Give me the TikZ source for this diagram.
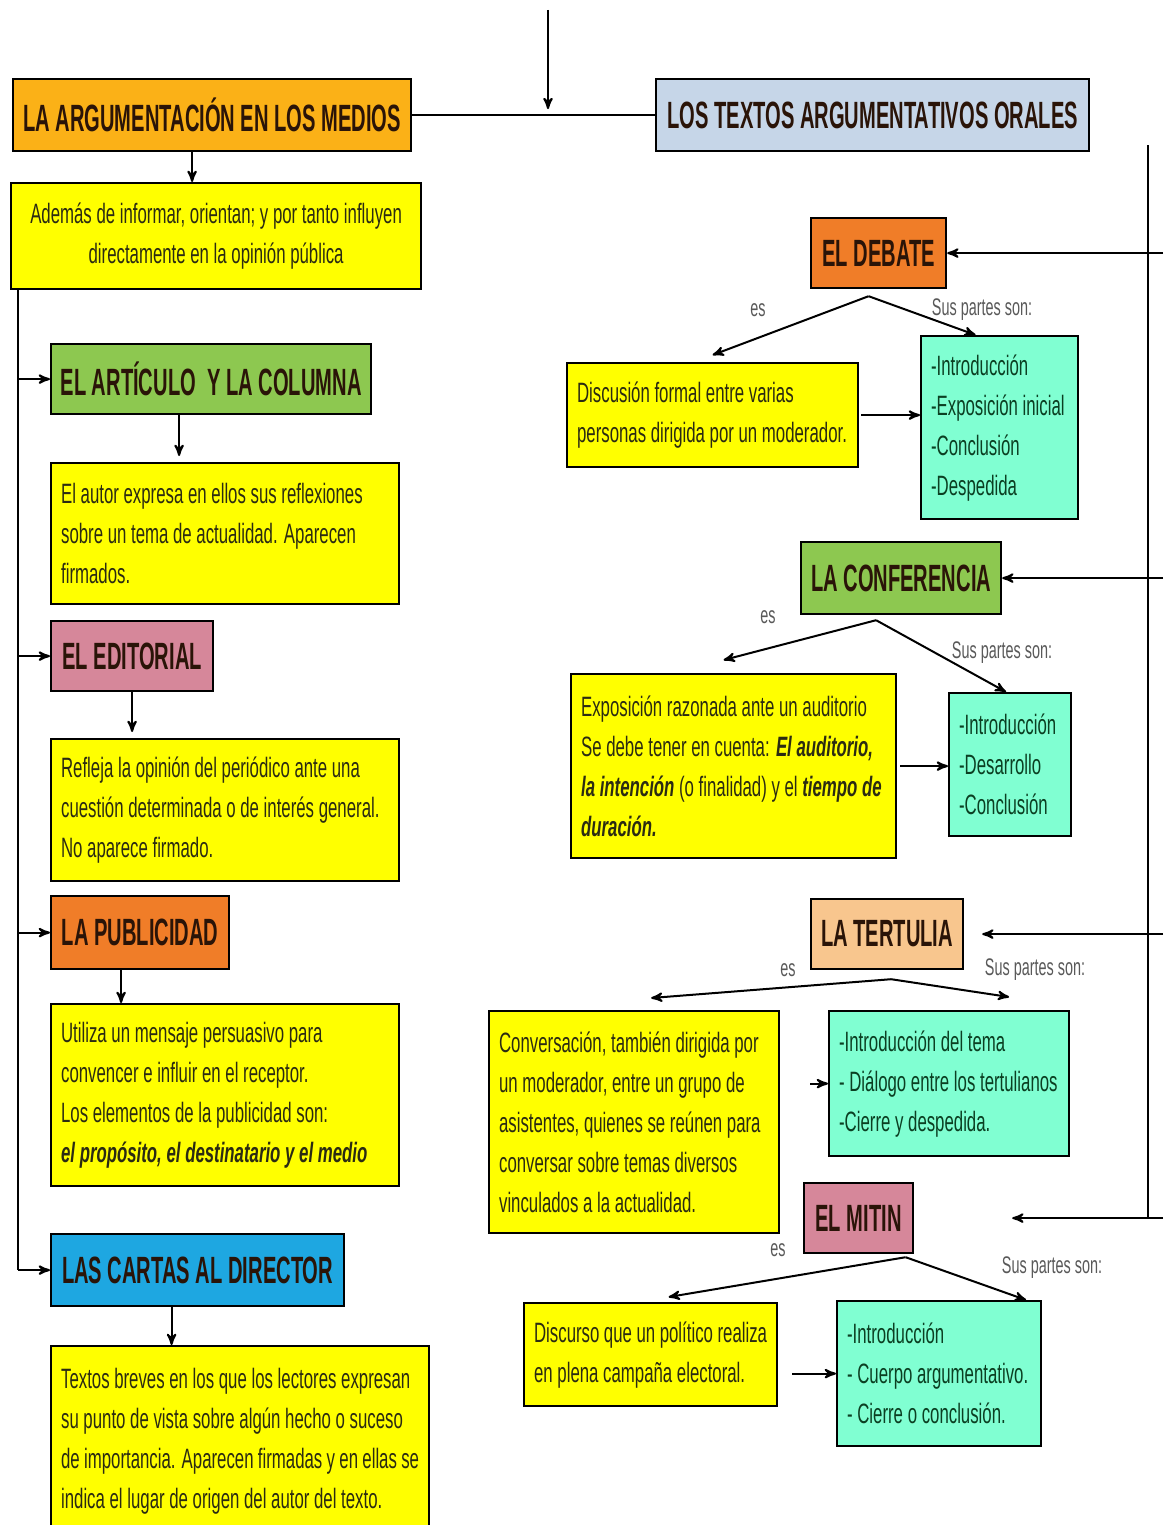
\documentclass[tikz,border=0pt]{standalone}
\usepackage{fontspec}
\setmainfont[FakeStretch=0.6, HyphenChar=None]{Liberation Sans}
\newfontfamily\headfamily[FakeStretch=0.53, HyphenChar=None]{Liberation Sans}
\usepackage{xcolor}
\definecolor{colorMedios}{HTML}{FBB117}
\definecolor{colorOrales}{HTML}{C6D6E8}
\definecolor{colorInfo}{HTML}{FFFF00}
\definecolor{colorPartes}{HTML}{80FFD2}
\definecolor{colorVerde}{HTML}{8DC850}
\definecolor{colorRosa}{HTML}{D6879A}
\definecolor{colorNaranja}{HTML}{F07D28}
\definecolor{colorSalmon}{HTML}{F8C68E}
\definecolor{colorAzul}{HTML}{1EA7E1}
\definecolor{colorTextoHead}{HTML}{2A1408}
\definecolor{colorTextoInfo}{HTML}{2B2B12}
\definecolor{colorTextoPartes}{HTML}{0B3F22}
\usepackage{tikz}
\usetikzlibrary{arrows, positioning}
\tikzset{
  head/.style={draw, line width=1.1pt, anchor=north west, inner sep=0pt, text=colorTextoHead, font=\headfamily\bfseries\fontsize{19}{21}\selectfont},
  info/.style={draw, line width=1.1pt, anchor=north west, fill=colorInfo, text=colorTextoInfo, align=flush left, inner xsep=5pt, inner ysep=0pt, font=\fontsize{14}{20}\selectfont},
  partes/.style={info, fill=colorPartes, text=colorTextoPartes},
  rotulo/.style={text=black!65, font=\fontsize{12}{14}\selectfont}
}

\begin{document}
\begin{tikzpicture}[>=stealth', x=0.5pt, y=-0.5pt, line width=1pt]
\useasboundingbox (0,0) rectangle (1163,1525);
\clip (0,0) rectangle (1163,1525);
\fill[white] (0,0) rectangle (1163,1525);

\node[head, fill=colorMedios, minimum width=199pt, minimum height=36pt] (medios) at (12,78) {LA ARGUMENTACIÓN EN LOS MEDIOS};
\node[info, align=flush center, text width=195pt, minimum height=53pt] (infoMedios) at (10,182) {Además de informar, orientan; y por tanto influyen\\directamente en la opinión pública};
\node[head, fill=colorOrales, minimum width=216.5pt, minimum height=36pt] (orales) at (655,78) {LOS TEXTOS ARGUMENTATIVOS ORALES};

\node[head, fill=colorVerde, minimum width=160pt, minimum height=35pt] (articulo) at (50,343) {EL ARTÍCULO\ \ Y LA COLUMNA};
\node[info, text width=164pt, minimum height=70.5pt] (infoArticulo) at (50,462) {El autor expresa en ellos sus reflexiones\\sobre un tema de actualidad. Aparecen\\firmados.};
\node[head, fill=colorRosa, minimum width=81pt, minimum height=35pt] (editorial) at (50,620) {EL EDITORIAL};
\node[info, text width=164pt, minimum height=71pt] (infoEditorial) at (50,738) {Refleja la opinión del periódico ante una\\cuestión determinada o de interés general.\\No aparece firmado.};
\node[head, fill=colorNaranja, minimum width=89pt, minimum height=36.5pt] (publicidad) at (50,895) {LA PUBLICIDAD};
\node[info, text width=164pt, minimum height=91pt] (infoPublicidad) at (50,1003) {Utiliza un mensaje persuasivo para\\convencer e influir en el receptor.\\Los elementos de la publicidad son:\\\textbf{\textit{el propósito, el destinatario y el medio}}};
\node[head, fill=colorAzul, minimum width=146.5pt, minimum height=36pt] (cartas) at (50,1233) {LAS CARTAS AL DIRECTOR};
\node[info, text width=179pt, minimum height=95pt] (infoCartas) at (50,1345) {Textos breves en los que los lectores expresan\\su punto de vista sobre algún hecho o suceso\\de importancia. Aparecen firmadas y en ellas se\\indica el lugar de origen del autor del texto.};

\node[head, fill=colorNaranja, minimum width=67.5pt, minimum height=35pt] (debate) at (810,217) {EL DEBATE};
\node[info, text width=135.5pt, minimum height=52pt] (infoDebate) at (566,362) {Discusión formal entre varias\\personas dirigida por un moderador.};
\node[partes, text width=68.5pt, minimum height=91.5pt] (partesDebate) at (920,335) {-Introducción\\-Exposición inicial\\-Conclusión\\-Despedida};
\node[rotulo] (esDebate) at (758,310) {es};
\node[rotulo] (susDebate) at (982,310) {Sus partes son:};

\node[head, fill=colorVerde, minimum width=100pt, minimum height=36pt] (conferencia) at (800,541) {LA CONFERENCIA};
\node[info, text width=152.5pt, minimum height=92pt] (infoConferencia) at (570,673) {Exposición razonada ante un auditorio\\Se debe tener en cuenta: \textbf{\textit{El auditorio,}}\\\textbf{\textit{la intención}} (o finalidad) y el \textbf{\textit{tiempo de}}\\\textbf{\textit{duración.}}};
\node[partes, text width=51pt, minimum height=71.5pt] (partesConferencia) at (948,692) {-Introducción\\-Desarrollo\\-Conclusión};
\node[rotulo] (esConferencia) at (768,617) {es};
\node[rotulo] (susConferencia) at (1002,653) {Sus partes son:};

\node[head, fill=colorSalmon, minimum width=76pt, minimum height=35pt] (tertulia) at (810,898) {LA TERTULIA};
\node[info, text width=135pt, minimum height=111pt] (infoTertulia) at (488,1010) {Conversación, también dirigida por\\un moderador, entre un grupo de\\asistentes, quienes se reúnen para\\conversar sobre temas diversos\\vinculados a la actualidad.};
\node[partes, text width=110pt, minimum height=72.5pt] (partesTertulia) at (828,1010) {-Introducción del tema\\- Diálogo entre los tertulianos\\-Cierre y despedida.};
\node[rotulo] (esTertulia) at (788,970) {es};
\node[rotulo] (susTertulia) at (1035,970) {Sus partes son:};

\node[head, fill=colorRosa, minimum width=54.5pt, minimum height=35pt] (mitin) at (803,1182) {EL MITIN};
\node[info, text width=116.5pt, minimum height=51.5pt] (infoMitin) at (523,1302) {Discurso que un político realiza\\en plena campaña electoral.};
\node[partes, text width=92pt, minimum height=72.5pt] (partesMitin) at (836,1300) {-Introducción\\- Cuerpo argumentativo.\\- Cierre o conclusión.};
\node[rotulo] (esMitin) at (778,1250) {es};
\node[rotulo] (susMitin) at (1052,1268) {Sus partes son:};

\coordinate (entrada) at (548,10);
\coordinate (ejeIzq) at ([xshift=4pt]infoMedios.south west);
\coordinate (ejeDer) at (1148,145);
\coordinate (bordeDer) at (1163,145);
\coordinate (forkDebate) at ([xshift=-5pt, yshift=-3.5pt]debate.south);
\coordinate (forkConferencia) at ([xshift=-12.5pt, yshift=-2.5pt]conferencia.south);
\coordinate (forkTertulia) at ([xshift=2pt, yshift=-4.5pt]tertulia.south);
\coordinate (forkMitin) at ([xshift=23.5pt, yshift=-1.5pt]mitin.south);

\draw [->] (entrada) -- ([yshift=3pt]entrada |- medios.east);
\draw (medios.east) -- (orales.west);
\draw [->] ([xshift=-10pt]medios.south) -- ([xshift=-10pt]medios.south |- infoMedios.north);

\draw (ejeIzq) -- (ejeIzq |- cartas.west);
\draw [->] (ejeIzq |- articulo.west) -- (articulo.west);
\draw [->] (ejeIzq |- editorial.west) -- (editorial.west);
\draw [->] (ejeIzq |- publicidad.west) -- (publicidad.west);
\draw [->] (ejeIzq |- cartas.west) -- (cartas.west);
\draw [->, shorten >=3pt] ([xshift=-16pt]articulo.south) -- ([xshift=-16pt]articulo.south |- infoArticulo.north);
\draw [->, shorten >=3pt] (editorial.south) -- (editorial.south |- infoEditorial.north);
\draw [->] ([xshift=-9.5pt]publicidad.south) -- ([xshift=-9.5pt]publicidad.south |- infoPublicidad.north);
\draw [->] ([xshift=-13pt]cartas.south) -- ([xshift=-13pt]cartas.south |- infoCartas.north);

\draw (ejeDer) -- (ejeDer |- mitin.east);
\draw [->] (bordeDer |- debate.east) -- (debate.east);
\draw [->] (bordeDer |- conferencia.east) -- (conferencia.east);
\draw [->, shorten >=9pt] (bordeDer |- tertulia.east) -- (tertulia.east);
\draw [->, shorten >=49pt] (bordeDer |- mitin.east) -- (mitin.east);

\draw [->] (forkDebate) -- ([yshift=3.5pt]infoDebate.north);
\draw [->] (forkDebate) -- ([xshift=-12pt]partesDebate.north);
\draw [->, shorten <=1pt] (infoDebate.east) -- (infoDebate.east -| partesDebate.west);

\draw [->] (forkConferencia) -- ([xshift=-5pt, yshift=6.5pt]infoConferencia.north);
\draw [->] (forkConferencia) -- ([xshift=-2pt]partesConferencia.north);
\draw [->, shorten <=1.5pt] (infoConferencia.east) -- (infoConferencia.east -| partesConferencia.west);

\draw [->] (forkTertulia) -- ([xshift=8.5pt, yshift=6pt]infoTertulia.north);
\draw [->] (forkTertulia) -- ([xshift=30pt, yshift=6.5pt]partesTertulia.north);
\draw [->, shorten <=15pt] (infoTertulia.east |- partesTertulia.west) -- (partesTertulia.west);

\draw [->] (forkMitin) -- ([xshift=9pt, yshift=2.5pt]infoMitin.north);
\draw [->] (forkMitin) -- ([xshift=43.5pt]partesMitin.north);
\draw [->, shorten <=7pt] (infoMitin.east |- partesMitin.west) -- (partesMitin.west);
\end{tikzpicture}
\end{document}
